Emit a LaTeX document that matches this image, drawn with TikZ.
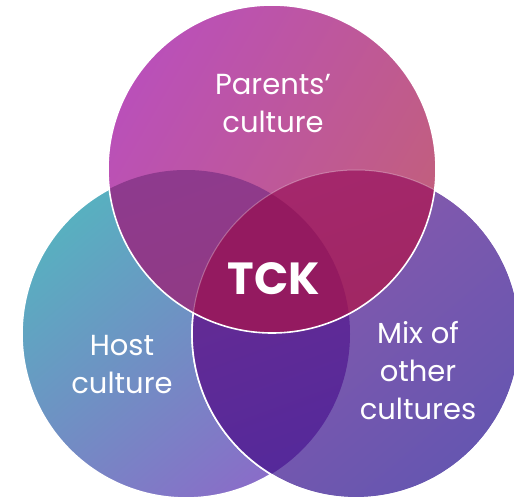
\documentclass[tikz,border=0pt]{standalone}
\usepackage{fontspec}
\setmainfont{Poppins}
\definecolor{topA}{HTML}{BA50B9}
\definecolor{topB}{HTML}{C25F7C}
\definecolor{hostA}{HTML}{58B0C0}
\definecolor{hostB}{HTML}{8A6CC8}
\definecolor{mixA}{HTML}{8C5AAC}
\definecolor{mixB}{HTML}{6656B0}
\definecolor{tlA}{HTML}{8E3A8E}
\definecolor{tlB}{HTML}{933A78}
\definecolor{trA}{HTML}{A4276C}
\definecolor{trB}{HTML}{9C2858}
\definecolor{lrA}{HTML}{6A2C92}
\definecolor{lrB}{HTML}{50289C}
\definecolor{ctr}{HTML}{941A60}
\begin{document}
\begin{tikzpicture}[x=1pt,y=-1pt,
  rim/.style={draw=white, line width=1.6pt},
  lbl/.style={text=white, align=center, inner sep=0pt, font=\fontsize{29}{38}\selectfont},
  big/.style={text=white, inner sep=0pt, font=\fontsize{45}{50}\selectfont\bfseries}]
\useasboundingbox (0,0) rectangle (514,500);
\fill[white] (0,0) rectangle (514,500);
\coordinate (T) at (272,169);
\coordinate (L) at (186,334);
\coordinate (R) at (356,334);
% left circle
\shade[top color=hostA, bottom color=hostB, shading angle=40] (L) circle (164pt);
\draw[rim] (L) circle (164pt);
% right circle
\shade[top color=mixA, bottom color=mixB, shading angle=40] (R) circle (164pt);
\draw[rim] (R) circle (164pt);
% left/right overlap
\begin{scope}
  \clip (L) circle (164pt);
  \shade[top color=lrA, bottom color=lrB, shading angle=20] (R) circle (164pt);
\end{scope}
\draw[rim] (R) circle (164pt);
% top circle
\shade[top color=topA, bottom color=topB, shading angle=60] (T) circle (164pt);
\begin{scope}
  \clip (T) circle (164pt);
  \shade[top color=tlA, bottom color=tlB, shading angle=20] (L) circle (164pt);
  \shade[top color=trA, bottom color=trB, shading angle=20] (R) circle (164pt);
  \clip (L) circle (164pt);
  \fill[ctr] (R) circle (164pt);
\end{scope}
\begin{scope}
  \clip (T) circle (164pt);
  \draw[draw=white, line width=1pt, opacity=0.3] (R) circle (164pt);
\end{scope}
\draw[rim] (T) circle (164pt);
% labels
\node[lbl] (parents) at (273,104) {Parents'\\culture};
\node[lbl] (host) at (122,365) {Host\\culture};
\node[lbl] (mix) at (418,371) {Mix of\\other\\cultures};
\node[big] (tck) at (274,279) {TCK};
\end{tikzpicture}
\end{document}
